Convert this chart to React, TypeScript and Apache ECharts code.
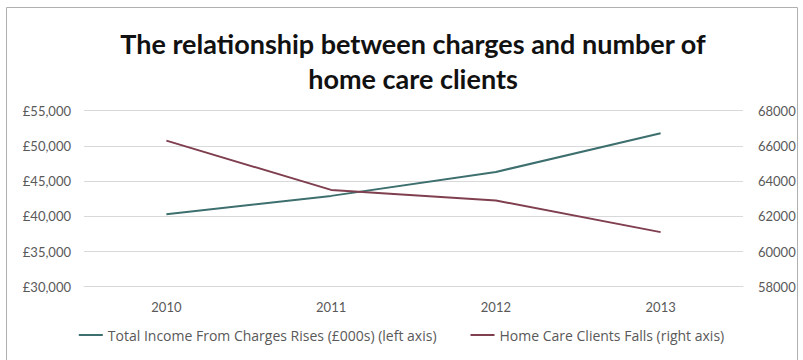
import React, { useEffect, useRef } from "react";
import * as echarts from "echarts";

const years = ["2010", "2011", "2012", "2013"];
const incomeValues = [40300, 42900, 46300, 51800];
const clientValues = [66300, 63500, 62900, 61100];
const incomeName = "Total Income From Charges Rises (£000s) (left axis)";
const clientName = "Home Care Clients Falls (right axis)";
const titleText = "The relationship between charges and number of\nhome care clients";

export default function App() {
  const ref = useRef<HTMLDivElement>(null);
  useEffect(() => {
    if (!ref.current) return;
    const chart = echarts.init(ref.current, null, { renderer: "svg" });
    const font = "Lato, 'DejaVu Sans', sans-serif";
    chart.setOption({
      animation: false,
      backgroundColor: "#ffffff",
      textStyle: { fontFamily: font },
      title: {
        text: titleText,
        left: 408,
        top: 21,
        textAlign: "center",
        textStyle: {
          fontSize: 27,
          fontWeight: "bold",
          color: "#111111",
          lineHeight: 35,
          fontFamily: font,
        },
      },
      graphic: [
        {
          type: "rect",
          shape: { x: 6.5, y: 7.5, width: 791, height: 360 },
          style: { fill: "none", stroke: "#b0b0b0", lineWidth: 1 },
          silent: true,
          z: -1,
        },
      ],
      grid: { left: 84, right: 60, top: 110.7, bottom: 73.3, containLabel: false },
      legend: {
        bottom: 13,
        left: "center",
        icon: "rect",
        itemWidth: 24,
        itemHeight: 2,
        itemGap: 34,
        textStyle: { fontSize: 14, color: "#595959", fontFamily: "'Open Sans', sans-serif" },
        data: [incomeName, clientName],
      },
      xAxis: {
        type: "category",
        data: years,
        boundaryGap: true,
        axisLine: { show: true, lineStyle: { color: "#d9d9d9" } },
        axisTick: { show: false },
        axisLabel: { fontSize: 13, color: "#595959", margin: 14 },
      },
      yAxis: [
        {
          type: "value",
          min: 30000,
          max: 55000,
          interval: 5000,
          axisLine: { show: false },
          axisTick: { show: false },
          splitLine: { lineStyle: { color: "#d9d9d9", width: 1 } },
          axisLabel: {
            fontSize: 13,
            color: "#595959",
            margin: 13,
            formatter: (v: number) => "£" + v.toLocaleString("en-GB"),
          },
        },
        {
          type: "value",
          min: 58000,
          max: 68000,
          interval: 2000,
          position: "right",
          axisLine: { show: false },
          axisTick: { show: false },
          splitLine: { show: false },
          axisLabel: {
            fontSize: 13,
            color: "#595959",
            margin: 15,
            formatter: (v: number) => String(v),
          },
        },
      ],
      series: [
        {
          name: incomeName,
          type: "line",
          data: incomeValues,
          yAxisIndex: 0,
          symbol: "none",
          lineStyle: { color: "#3d6f6e", width: 2 },
          itemStyle: { color: "#3d6f6e" },
        },
        {
          name: clientName,
          type: "line",
          data: clientValues,
          yAxisIndex: 1,
          symbol: "none",
          lineStyle: { color: "#7f3f4f", width: 2 },
          itemStyle: { color: "#7f3f4f" },
        },
      ],
    });
    return () => chart.dispose();
  }, []);
  return (
    <div
      ref={ref}
      style={{ position: "fixed", left: 0, top: 0, width: 803, height: 360 }}
    />
  );
}
